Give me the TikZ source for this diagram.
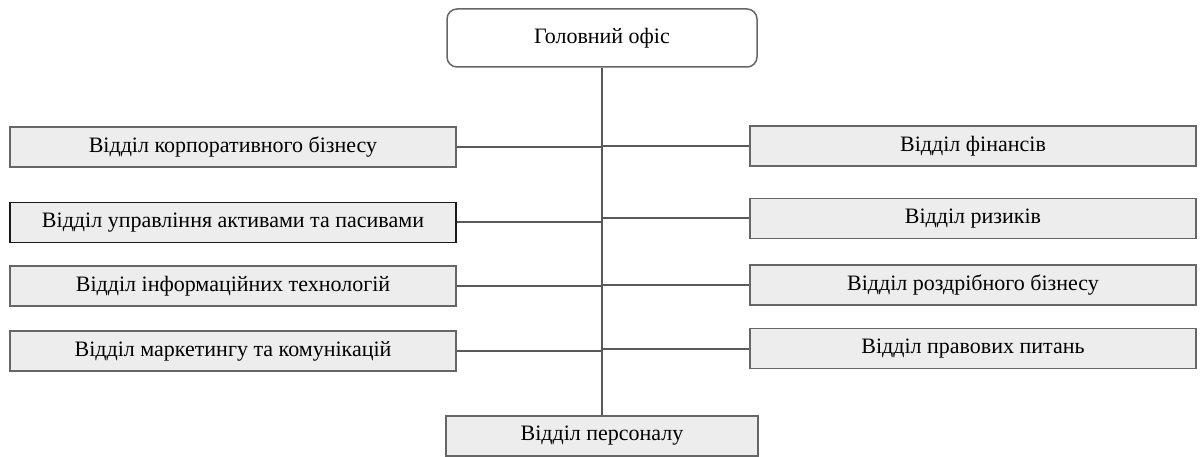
\documentclass[tikz,border=0pt]{standalone}
\usepackage{fontspec}
\setmainfont{Liberation Serif}
\begin{document}
\begin{tikzpicture}[x=1pt,y=-1pt,
  box/.style={draw=black!60, line width=1.5pt, fill=black!7, minimum width=446pt, minimum height=40pt, inner sep=0pt, font=\fontsize{22}{22}\selectfont},
  conn/.style={draw=black!65, line width=2pt}]
\useasboundingbox (0,0) rectangle (1202,457);
\node[box, fill=white, rounded corners=10pt, minimum width=310pt, minimum height=58pt] (top) at (602,38) {\raisebox{5pt}{Головний офіс}};
\node[box, minimum width=312pt] (bot) at (602,436) {\raisebox{3pt}{Відділ персоналу}};
\node[box] (l1) at (233,147) {\raisebox{5pt}{Відділ корпоративного бізнесу}};
\node[box, draw=black!90] (l2) at (233,222.5) {\raisebox{5pt}{Відділ управління активами та пасивами}};
\node[box] (l3) at (233,286) {\raisebox{5pt}{Відділ інформаційних технологій}};
\node[box] (l4) at (233,351) {\raisebox{5pt}{Відділ маркетингу та комунікацій}};
\node[box] (r1) at (973,146) {\raisebox{5pt}{Відділ фінансів}};
\node[box] (r2) at (973,218.5) {\raisebox{5pt}{Відділ ризиків}};
\node[box] (r3) at (973,285) {\raisebox{5pt}{Відділ роздрібного бізнесу}};
\node[box] (r4) at (973,348.5) {\raisebox{5pt}{Відділ правових питань}};
\draw[conn] (top.south) -- (bot.north);
\foreach \n in {l1,l2,l3,l4,r1,r2,r3,r4}
  \draw[conn] (\n) -- (\n -| top.south);
\end{tikzpicture}
\end{document}
